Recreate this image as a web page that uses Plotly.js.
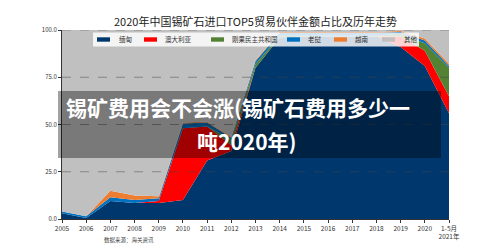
<!DOCTYPE html>
<html>
<head>
<meta charset="utf-8">
<script src="https://cdn.plot.ly/plotly-3.0.1.min.js"></script>
<style>
  html, body { margin: 0; padding: 0; background: #ffffff; }
  #chart { width: 500px; height: 250px; }
</style>
</head>
<body>
<div id="chart"></div>
<script>
// Period labels (x axis)
const periods = ['2005', '2006', '2007', '2008', '2009', '2010', '2011', '2012', '2013',
                 '2014', '2015', '2016', '2017', '2018', '2019', '2020', '1-5月<br>2021年'];

// Share of tin ore import value by partner, percent
const burma     = [3, 0.5, 9.5, 8.5, 8.5, 10, 31, 36, 80, 96, 96.5, 96.5, 96.5, 96.5, 91, 81, 56];
const australia = [0, 0, 0, 0, 1, 38, 18, 3, 0, 0, 0, 0, 0, 0, 5.5, 8, 9];
const congo     = [0, 0, 0, 0, 0, 0, 0, 3, 2, 1, 0.5, 0.5, 0.5, 0.5, 1.5, 4, 15];
const laos      = [1, 1, 2, 1.5, 1.5, 2.5, 2, 1, 1.5, 1.5, 1.5, 1.5, 1.5, 1.5, 1, 1.5, 1];
const vietnam   = [0, 0, 3.5, 2.5, 1, 0.5, 0.5, 0.5, 0.5, 0.5, 0.5, 0.5, 0.5, 0.5, 0.5, 1, 1.2];
const others    = [96, 98.5, 85, 87.5, 88, 49, 48.5, 56.5, 16, 1, 1, 1, 1, 1, 0.5, 4.5, 17.8];

const seriesNames  = ['缅甸', '澳大利亚', '刚果民主共和国', '老挝', '越南', '其他'];
const seriesValues = [burma, australia, congo, laos, vietnam, others];
const seriesColors = ['#00386e', '#ff0000', '#548235', '#0070c0', '#ed7d31', '#c0c0c0'];

const yTicks = [0, 25, 50, 75, 100];

const titleText = '2020年中国锡矿石进口TOP5贸易伙伴金额占比及历年走势';
const bannerLines = ['锡矿费用会不会涨(锡矿石费用多少一', '吨2020年)'];
const sourceText = '数据来源：海关资讯';

// ---- page geometry (pixels) ----
const W = 500, H = 250;
const plotL = 62, plotR = 449, plotT = 30, plotB = 219;
const px = x => (x - plotL) / (plotR - plotL);
const py = y => (plotB - y) / (plotB - plotT);

const FONT = '"Noto Sans CJK SC", "Noto Sans", sans-serif';

const traces = seriesNames.map((name, i) => ({
  type: 'scatter',
  mode: 'lines',
  name: name,
  x: periods,
  y: seriesValues[i],
  stackgroup: 'share',
  fill: 'tonexty',
  fillcolor: seriesColors[i],
  line: { width: 0, color: seriesColors[i] },
  hoverinfo: 'skip',
  showlegend: false
}));

const shapes = [];
const annotations = [];

// dashed gridlines drawn over the filled areas
yTicks.filter(v => v > 0).forEach(v => {
  shapes.push({
    type: 'line', xref: 'paper', yref: 'y', x0: 0, x1: 1, y0: v, y1: v,
    line: { color: 'rgba(70,70,70,0.6)', width: 0.8, dash: 'dash' }, layer: 'above'
  });
});

// legend strip inside the plot top
const legendSymX = [97, 144, 211, 287, 334, 382];
const legendTxtX = [117, 163, 230, 306, 353, 402];
const legendY = 39.5;
shapes.push({
  type: 'rect', xref: 'paper', yref: 'paper',
  x0: px(93), x1: px(419), y0: py(46.5), y1: py(32.5),
  fillcolor: 'rgba(255,255,255,0.82)', line: { width: 0 }, layer: 'above'
});
seriesNames.forEach((name, i) => {
  shapes.push({
    type: 'rect', xref: 'paper', yref: 'paper',
    x0: px(legendSymX[i]), x1: px(legendSymX[i] + 13),
    y0: py(legendY + 2.2), y1: py(legendY - 2.2),
    fillcolor: seriesColors[i], line: { width: 0 }, layer: 'above'
  });
  annotations.push({
    xref: 'paper', yref: 'paper', x: px(legendTxtX[i]), y: py(legendY),
    xanchor: 'left', yanchor: 'middle', showarrow: false, text: name,
    font: { family: FONT, size: 6.5, color: '#333333' }
  });
});

// dark translucent banner with headline text
shapes.push({
  type: 'rect', xref: 'paper', yref: 'paper',
  x0: px(58), x1: px(441), y0: py(158), y1: py(91),
  fillcolor: 'rgba(0,0,0,0.37)', line: { width: 0 }, layer: 'above'
});
annotations.push({
  xref: 'paper', yref: 'paper', x: px(238), y: py(107.5),
  xanchor: 'center', yanchor: 'middle', showarrow: false,
  text: '<b>' + bannerLines[0] + '</b>',
  font: { family: FONT, size: 21, color: '#ffffff' }
});
annotations.push({
  xref: 'paper', yref: 'paper', x: px(247), y: py(140.5),
  xanchor: 'center', yanchor: 'middle', showarrow: false,
  text: '<b>' + bannerLines[1] + '</b>',
  font: { family: FONT, size: 21, color: '#ffffff' }
});

// data source note
annotations.push({
  xref: 'paper', yref: 'paper', x: px(102), y: py(240),
  xanchor: 'left', yanchor: 'middle', showarrow: false, text: sourceText,
  font: { family: FONT, size: 5.5, color: '#444444' }
});

const layout = {
  width: W, height: H,
  margin: { l: plotL, r: W - plotR, t: plotT, b: H - plotB, pad: 0 },
  paper_bgcolor: '#ffffff',
  plot_bgcolor: '#ffffff',
  showlegend: false,
  title: {
    text: titleText,
    font: { family: FONT, size: 11, color: '#222222' },
    xref: 'paper', x: 0.5, xanchor: 'center',
    yref: 'container', y: 1 - 22.5 / H, yanchor: 'middle'
  },
  xaxis: {
    type: 'category',
    range: [0, periods.length - 1],
    showgrid: false, zeroline: false,
    showline: true, linecolor: '#333333', linewidth: 1,
    ticks: 'outside', ticklen: 3, tickcolor: '#333333',
    tickfont: { family: FONT, size: 6.5, color: '#333333' },
    fixedrange: true
  },
  yaxis: {
    range: [0, 100],
    tickvals: yTicks,
    tickformat: '.1f', ticksuffix: '%',
    showgrid: false, zeroline: false,
    showline: true, linecolor: '#333333', linewidth: 1,
    ticks: 'outside', ticklen: 3, tickcolor: '#333333',
    tickfont: { family: FONT, size: 6, color: '#333333' },
    fixedrange: true
  },
  shapes: shapes,
  annotations: annotations
};

Plotly.newPlot('chart', traces, layout, { staticPlot: true, displayModeBar: false });
</script>
</body>
</html>
